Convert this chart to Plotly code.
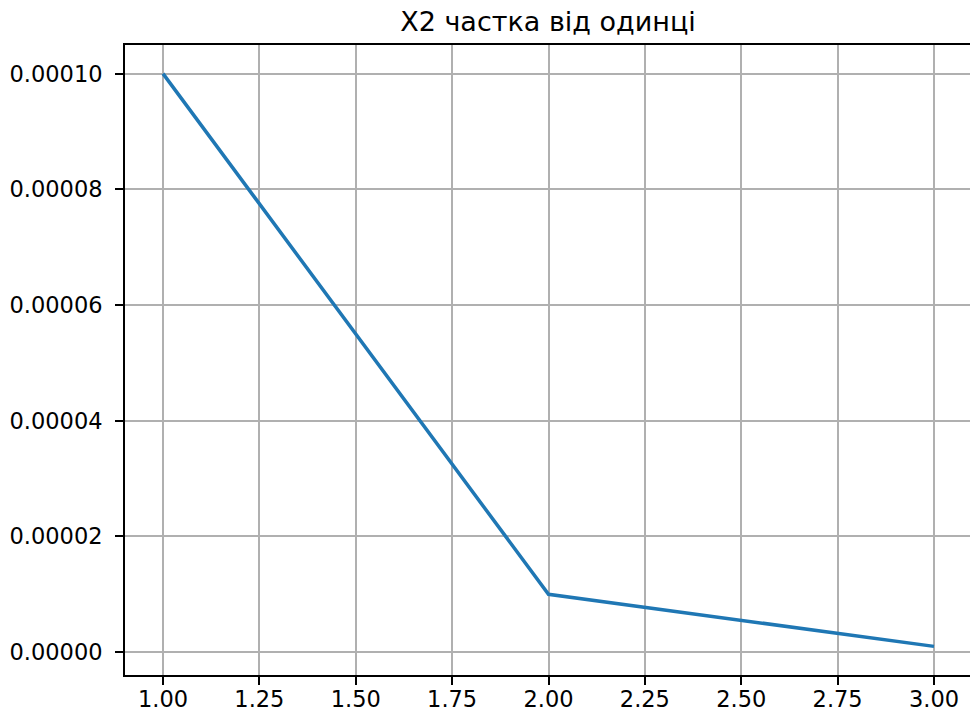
import plotly.graph_objects as go

# X2 share of one, per step
steps = [1, 2, 3]
share = [0.0001, 0.00001, 0.000001]

x_ticks = [1.0, 1.25, 1.5, 1.75, 2.0, 2.25, 2.5, 2.75, 3.0]
y_ticks = [0.0, 0.00002, 0.00004, 0.00006, 0.00008, 0.0001]

title_text = "X2 частка від одинці"

font_family = "DejaVu Sans"

fig = go.Figure()
fig.add_trace(go.Scatter(
    x=steps, y=share, mode="lines",
    line=dict(color="#1f77b4", width=3.5),
    hoverinfo="skip",
))

axis_common = dict(
    showgrid=True, gridcolor="#b0b0b0", gridwidth=1.9,
    zeroline=False,
    showline=True, linecolor="black", linewidth=1.9,
    ticks="outside", ticklen=8, tickwidth=1.9, tickcolor="black",
    tickfont=dict(family=font_family, size=22.5, color="black"),
    automargin=False,
)

fig.update_layout(
    width=970, height=719,
    margin=dict(l=125, r=0, t=45, b=44),
    paper_bgcolor="white", plot_bgcolor="white",
    showlegend=False,
    title=dict(
        text=title_text,
        font=dict(family=font_family, size=27, color="black"),
        x=0.5006, xref="paper", xanchor="center",
        y=1 - 22 / 719, yref="container", yanchor="middle",
    ),
    xaxis=dict(
        range=[0.9014, 3.0934],
        tickvals=x_ticks, tickformat=".2f",
        mirror=True,
        ticklabelstandoff=-5,
        **axis_common,
    ),
    yaxis=dict(
        range=[-0.00000395, 0.00010495],
        tickvals=y_ticks, tickformat=".5f",
        ticklabelstandoff=8,
        **axis_common,
    ),
)

fig.write_html("out.html")
